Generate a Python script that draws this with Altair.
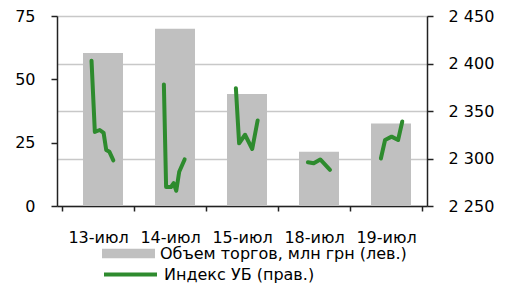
import altair as alt
import pandas as pd

categories = ["13-июл", "14-июл", "15-июл", "18-июл", "19-июл"]
volume = [60.4, 70.0, 44.2, 21.4, 32.6]

bar_label = "Объем торгов, млн грн (лев.)"
line_label = "Индекс УБ (прав.)"

# intraday index: day number, position within the day's slot, value
idx_day = [0] * 7 + [1] * 7 + [2] * 5 + [3] * 4 + [4] * 5
idx_pos = [0.410, 0.456, 0.524, 0.578, 0.614, 0.659, 0.713,
           0.415, 0.446, 0.514, 0.551, 0.587, 0.628, 0.703,
           0.415, 0.460, 0.542, 0.642, 0.717,
           0.415, 0.496, 0.587, 0.722,
           0.429, 0.487, 0.578, 0.668, 0.726]
idx_val = [2403, 2328, 2330, 2327, 2309, 2307, 2298,
           2378, 2270, 2270, 2274, 2266, 2286, 2299,
           2374, 2316, 2325, 2310, 2340,
           2296, 2295, 2299, 2288,
           2300, 2319.5, 2323, 2319.5, 2339]

left_ticks = [0, 25, 50, 75]
right_ticks = [2250, 2300, 2350, 2400, 2450]

n = len(categories)
bars = pd.DataFrame({
    "pos": [i + 0.5 for i in range(n)],
    "volume": volume,
    "series": [bar_label] * n,
})
line = pd.DataFrame({
    "pos": [d + p for d, p in zip(idx_day, idx_pos)],
    "value": idx_val,
    "day": idx_day,
    "series": [line_label] * len(idx_val),
})

FONT = "DejaVu Sans"
FS = 16
AXC = "#222222"

cat_js = "[" + ",".join("'" + c + "'" for c in categories) + "]"
x_values = [i / 2 for i in range(2 * n + 1)]

x_axis = alt.Axis(
    values=x_values,
    labelExpr=f"datum.value % 1 == 0 ? '' : {cat_js}[floor(datum.value)]",
    tickOpacity={"condition": {"test": "datum.value % 1 == 0", "value": 1}, "value": 0},
    tickSize=5, tickWidth=1.5, tickColor=AXC,
    domainColor=AXC, domainWidth=1.5,
    labelFont=FONT, labelFontSize=FS, labelColor="black",
    labelPadding=18, labelOverlap=False, labelFlush=False,
    grid=False, title=None,
)
x_enc = alt.X("pos:Q", scale=alt.Scale(domain=[0, n], nice=False, zero=False), axis=x_axis)

bar_layer = alt.Chart(bars).mark_bar(size=40, xOffset=5, orient="vertical").encode(
    x=x_enc,
    y=alt.Y("volume:Q", stack=None,
            scale=alt.Scale(domain=[0, 75], nice=False),
            axis=alt.Axis(values=left_ticks, orient="left", grid=False, title=None,
                          tickSize=6, tickWidth=1.5, tickColor=AXC,
                          domainColor=AXC, domainWidth=1.5,
                          labelFont=FONT, labelFontSize=FS, labelColor="black",
                          labelPadding=16)),
    color=alt.Color("series:N",
                    scale=alt.Scale(domain=[bar_label], range=["#c0c0c0"]),
                    legend=alt.Legend(orient="none", legendX=45, legendY=211, title=None,
                                      symbolType="M-1,-0.18H1V0.18H-1Z", symbolSize=2809,
                                      symbolStrokeWidth=0, symbolOpacity=1,
                                      labelFont=FONT, labelFontSize=FS, labelColor="black",
                                      labelLimit=500, labelOffset=5)),
)

line_layer = alt.Chart(line).mark_line(strokeWidth=4, strokeCap="round", strokeJoin="round").encode(
    x=x_enc,
    y=alt.Y("value:Q",
            scale=alt.Scale(domain=[2250, 2450], nice=False, zero=False),
            axis=alt.Axis(values=right_ticks, orient="right", grid=True,
                          gridColor="#c8c8c8", gridWidth=1.5, title=None,
                          labelExpr="replace(format(datum.value, ','), ',', ' ')",
                          tickSize=6, tickWidth=1.5, tickColor=AXC,
                          domainColor=AXC, domainWidth=1.5,
                          labelFont=FONT, labelFontSize=FS, labelColor="black",
                          labelPadding=15)),
    stroke=alt.Stroke("series:N",
                      scale=alt.Scale(domain=[line_label], range=["#2e8b2e"]),
                      legend=alt.Legend(orient="none", legendX=45, legendY=230, title=None,
                                        symbolType="stroke", symbolSize=2809,
                                        symbolStrokeWidth=4,
                                        labelFont=FONT, labelFontSize=FS, labelColor="black",
                                        labelLimit=500, labelOffset=5)),
    detail="day:N",
)

chart = alt.layer(bar_layer, line_layer).resolve_scale(y="independent").properties(
    width=370, height=190,
    autosize=alt.AutoSizeParams(type="none"),
    padding={"left": 49, "top": 8, "right": 73, "bottom": 78},
).configure_view(stroke=None).configure(background="white")

chart.save("out.html", embed_options={"renderer": "svg", "actions": False})
